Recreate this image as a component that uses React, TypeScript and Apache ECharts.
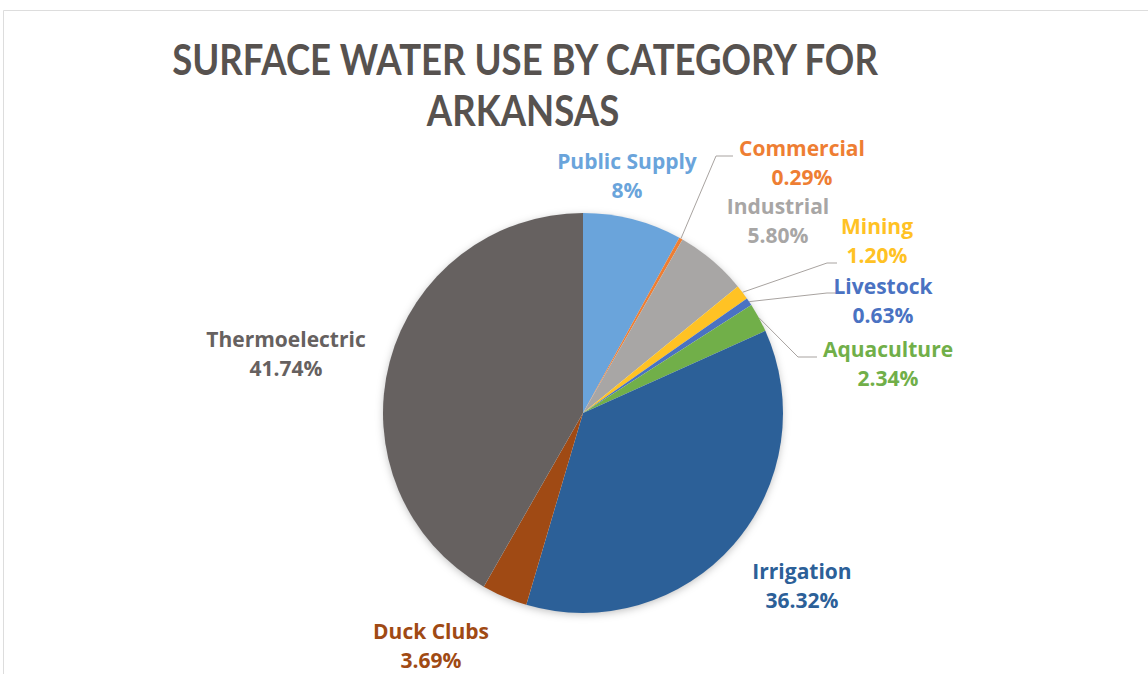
import React, { useEffect, useRef } from "react";
import * as echarts from "echarts";

const categories = [
  "Public Supply",
  "Commercial",
  "Industrial",
  "Mining",
  "Livestock",
  "Aquaculture",
  "Irrigation",
  "Duck Clubs",
  "Thermoelectric",
];
const values = [8, 0.29, 5.8, 1.2, 0.63, 2.34, 36.32, 3.69, 41.74];
const valueLabels = ["8%", "0.29%", "5.80%", "1.20%", "0.63%", "2.34%", "36.32%", "3.69%", "41.74%"];
const sliceColors = [
  "#6AA4DB",
  "#EE7E33",
  "#A8A6A5",
  "#FFC224",
  "#4A72C2",
  "#71AF49",
  "#2C6098",
  "#A04A14",
  "#666160",
];
const titleLines = ["SURFACE WATER USE BY CATEGORY FOR", "ARKANSAS"];

// label placement (text block centers) and leader-line bends
const labelPos: number[][] = [
  [627, 175],
  [802, 162],
  [778, 220],
  [877, 240],
  [883, 300],
  [888, 363],
  [802, 585],
  [431, 645],
  [286, 353],
];
const leaderBends: (number[][] | null)[] = [
  null,
  [[716, 156], [733, 156]],
  null,
  [[827, 263], [837, 263]],
  [[827, 293], [836, 293]],
  [[798, 357], [817, 357]],
  null,
  null,
  null,
];

const CX = 583;
const CY = 413;
const R = 200;

export default function App() {
  const ref = useRef<HTMLDivElement>(null);
  useEffect(() => {
    if (!ref.current) return;
    const chart = echarts.init(ref.current, undefined, { renderer: "svg" });
    const total = values.reduce((a, b) => a + b, 0);
    const edgePoint = (i: number) => {
      let cum = 0;
      for (let k = 0; k < i; k++) cum += values[k];
      const f = (cum + values[i] / 2) / total;
      const a = f * Math.PI * 2;
      return [CX + R * Math.sin(a), CY - R * Math.cos(a)];
    };
    const option: any = {
      animation: false,
      backgroundColor: "#ffffff",
      graphic: [
        {
          type: "rect",
          z: 0,
          shape: { x: 3.5, y: 10.5, width: 1200, height: 700 },
          style: { fill: "none", stroke: "#dddddd", lineWidth: 1 },
          silent: true,
        },
        {
          type: "circle",
          z: 0,
          shape: { cx: CX, cy: CY, r: R - 1 },
          style: {
            fill: "#ffffff",
            shadowBlur: 8,
            shadowColor: "rgba(0,0,0,0.28)",
            shadowOffsetY: 2,
          },
          silent: true,
        },
        {
          type: "text",
          x: 525,
          y: 58,
          scaleX: 0.87,
          style: {
            text: titleLines[0],
            fill: "#57524F",
            font: "bold 42px Lato",
            textAlign: "center",
            textVerticalAlign: "middle",
          },
        },
        {
          type: "text",
          x: 523,
          y: 109,
          scaleX: 0.87,
          style: {
            text: titleLines[1],
            fill: "#57524F",
            font: "bold 42px Lato",
            textAlign: "center",
            textVerticalAlign: "middle",
          },
        },
      ],
      series: [
        {
          type: "pie",
          z: 2,
          center: [CX, CY],
          radius: R,
          startAngle: 90,
          clockwise: true,
          avoidLabelOverlap: false,
          emphasis: { disabled: true },
          itemStyle: { borderWidth: 0 },
          label: {
            show: true,
            position: "outside",
            fontFamily: "Open Sans",
            fontWeight: "bold",
            fontSize: 21,
            lineHeight: 29,
            align: "center",
          },
          labelLine: {
            show: true,
            lineStyle: { color: "#A8A3A0", width: 1 },
          },
          labelLayout: (params: any) => {
            const i = params.dataIndex;
            const res: any = {
              x: labelPos[i][0],
              y: labelPos[i][1],
              align: "center",
              verticalAlign: "middle",
            };
            const bends = leaderBends[i];
            if (bends) {
              res.labelLinePoints = [edgePoint(i), bends[0], bends[1]];
            }
            return res;
          },
          data: categories.map((name, i) => ({
            name,
            value: values[i],
            itemStyle: { color: sliceColors[i] },
            label: {
              color: sliceColors[i],
              formatter: () => `${name}\n${valueLabels[i]}`,
            },
            labelLine: { show: !!leaderBends[i] },
          })),
        },
      ],
    };
    chart.setOption(option);
    return () => chart.dispose();
  }, []);
  return (
    <div
      ref={ref}
      style={{ position: "fixed", left: 0, top: 0, width: 1148, height: 674 }}
    />
  );
}
